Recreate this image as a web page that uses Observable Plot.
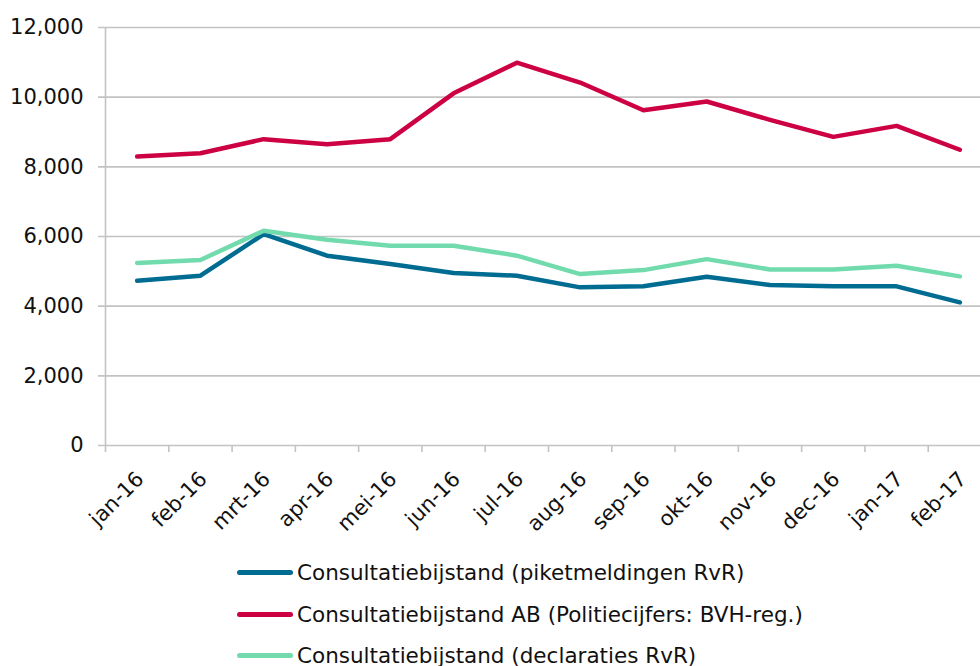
<!DOCTYPE html>
<html>
<head>
<meta charset="utf-8">
<script src="https://cdn.jsdelivr.net/npm/d3@7"></script>
<script src="https://cdn.jsdelivr.net/npm/@observablehq/plot@0.6"></script>
<style>
  html, body { margin: 0; padding: 0; background: #fff; }
  body { width: 980px; height: 666px; overflow: hidden; font-family: "DejaVu Sans", Verdana, sans-serif; }
  #legend { position: absolute; left: 237px; top: 552px; }
  .row { display: flex; align-items: center; height: 41.5px; font-size: 21.5px; color: #111; white-space: nowrap; }
  .swatch { width: 56px; height: 5px; border-radius: 3px; margin-right: 4px; }
</style>
</head>
<body>
<div id="chart"></div>
<div id="legend"></div>
<script>
const months = ["jan-16","feb-16","mrt-16","apr-16","mei-16","jun-16","jul-16","aug-16","sep-16","okt-16","nov-16","dec-16","jan-17","feb-17"];
const piket = [4730, 4875, 6070, 5450, 5210, 4950, 4875, 4540, 4570, 4845, 4605, 4570, 4570, 4110];
const politie = [8295, 8390, 8795, 8650, 8795, 10110, 10990, 10420, 9625, 9875, 9350, 8860, 9175, 8490];
const declaraties = [5240, 5325, 6165, 5905, 5735, 5735, 5450, 4920, 5035, 5350, 5055, 5055, 5160, 4855];
const seriesNames = [
  "Consultatiebijstand (piketmeldingen RvR)",
  "Consultatiebijstand AB (Politiecijfers: BVH-reg.)",
  "Consultatiebijstand (declaraties RvR)"
];
const seriesColors = ["#006c91", "#cc0042", "#72dbad"];
const yTicks = [0, 2000, 4000, 6000, 8000, 10000, 12000];

const seriesValues = [piket, politie, declaraties];
const data = [];
seriesValues.forEach((vals, s) => vals.forEach((v, i) => data.push({series: seriesNames[s], i, value: v})));
const idx = months.map((_, i) => i);
const bounds = months.map((_, i) => i - 0.5).concat([months.length - 0.5]);

const H = 545;
const chart = Plot.plot({
  width: 980,
  height: H,
  marginTop: 27,
  marginBottom: H - 445,
  marginLeft: 105,
  marginRight: 0,
  style: {fontFamily: "DejaVu Sans, Verdana, sans-serif", fontSize: "21px", color: "#111", overflow: "visible"},
  x: {type: "linear", domain: [-0.5, months.length - 0.5], range: [105, 991], label: null},
  y: {domain: [0, 12000], ticks: yTicks, label: null},
  color: {domain: seriesNames, range: seriesColors},
  marks: [
    Plot.ruleY(yTicks, {stroke: "#c3c3c3", strokeWidth: 1.6, x1: -0.5, x2: months.length - 0.5, insetLeft: -7}),
    Plot.axisY(yTicks, {tickSize: 0, tickPadding: 22, tickFormat: d3.format(","), fontSize: 21, fill: "#111", label: null}),
    Plot.ruleX([-0.5], {stroke: "#c3c3c3", strokeWidth: 1.6}),
    Plot.axisX(bounds, {tickSize: 7, tickFormat: () => "", stroke: "#c3c3c3", strokeWidth: 1.6, label: null}),
    Plot.axisX(idx, {tickSize: 0, tickPadding: 30, dx: 3, tickRotate: -45, tickFormat: i => months[i], fontSize: 21, fill: "#111", label: null}),
    Plot.line(data, {x: "i", y: "value", z: "series", stroke: "series", strokeWidth: 4.5, strokeLinecap: "round", strokeLinejoin: "round"})
  ]
});
document.getElementById("chart").appendChild(chart);

const legend = document.getElementById("legend");
seriesNames.forEach((name, s) => {
  const row = document.createElement("div");
  row.className = "row";
  const sw = document.createElement("div");
  sw.className = "swatch";
  sw.style.background = seriesColors[s];
  const t = document.createElement("span");
  t.textContent = name;
  row.appendChild(sw); row.appendChild(t);
  legend.appendChild(row);
});
</script>
</body>
</html>
